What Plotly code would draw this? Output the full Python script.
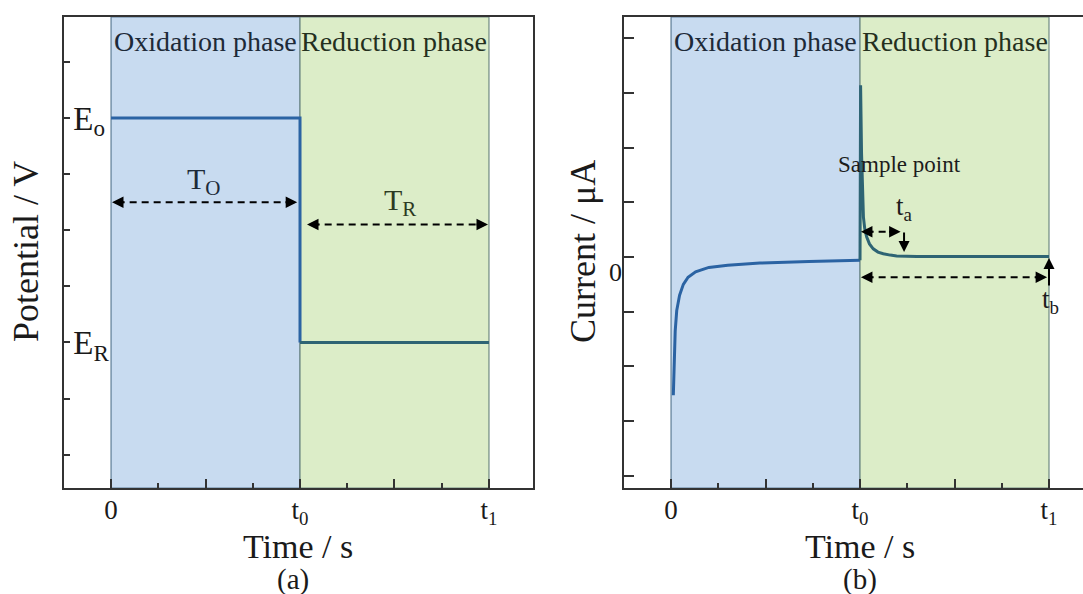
import plotly.graph_objects as go

W, H = 1083, 594
FONT = "Liberation Serif, Times New Roman, serif"

# ---------------- data ----------------
phase_names = ["Oxidation phase", "Reduction phase"]
phase_bounds = [0, 1, 2]          # 0, t0, t1
x_tickvals = [0, 0.5, 1, 1.5, 2]
x_ticktext = ["0", "", "t<sub>0</sub>", "", "t<sub>1</sub>"]
x_minorvals = [0.25, 0.75, 1.25, 1.75]

# panel (a): potential step
pot_ox_t = [0, 1, 1]
pot_ox_v = [7, 7, 3]
pot_red_t = [1, 2]
pot_red_v = [3, 3]
pot_tickvals = [1, 2, 3, 4, 5, 6, 7, 8]
pot_ticktext = ["", "", "E<sub>R</sub>", "", "", "", "E<sub>o</sub>", ""]

# panel (b): current response
cur_ox_t = [0.012, 0.016, 0.022, 0.03, 0.045, 0.065, 0.09, 0.13, 0.2, 0.3, 0.47, 0.73, 1.0]
cur_ox_i = [-2.53, -1.9, -1.35, -0.98, -0.7, -0.5, -0.37, -0.27, -0.19, -0.15, -0.11, -0.08, -0.06]
cur_red_t = [1.0, 1.003, 1.008, 1.012, 1.018, 1.025, 1.035, 1.05, 1.07, 1.095, 1.123, 1.16,
             1.194, 1.3, 1.5, 1.75, 2.0]
cur_red_i = [-0.06, 3.14, 1.9, 1.16, 0.73, 0.52, 0.37, 0.24, 0.15, 0.09, 0.06, 0.035,
             0.02, 0.01, 0.01, 0.01, 0.01]
cur_tickvals = [-4, -3, -2, -1, 0, 1, 2, 3, 4]
cur_ticktext = ["", "", "", "", "0", "", "", "", ""]

# dimension arrows (x0, x1, y)
arrow_TO = (0.005, 0.985, 5.5)
arrow_TR = (1.037, 1.995, 5.1)
arrow_ta = (1.005, 1.215, 0.46)
arrow_tb = (1.005, 1.99, -0.37)

BLUE_FILL = "#c8dbf0"
GREEN_FILL = "#dcedc8"
LINE_BLUE = "#2b63a3"
LINE_TEAL = "#2e6474"
AX = "#333333"

fig = go.Figure()

# ---------- traces ----------
fig.add_trace(go.Scatter(x=pot_ox_t, y=pot_ox_v, mode="lines",
                         line=dict(color=LINE_BLUE, width=3), xaxis="x", yaxis="y"))
fig.add_trace(go.Scatter(x=pot_red_t, y=pot_red_v, mode="lines",
                         line=dict(color=LINE_TEAL, width=3), xaxis="x", yaxis="y"))
fig.add_trace(go.Scatter(x=cur_ox_t, y=cur_ox_i, mode="lines",
                         line=dict(color=LINE_BLUE, width=3), xaxis="x2", yaxis="y2"))
fig.add_trace(go.Scatter(x=cur_red_t, y=cur_red_i, mode="lines",
                         line=dict(color=LINE_TEAL, width=3), xaxis="x2", yaxis="y2"))

annotations = []
shapes = []


def dim_arrow(a, xr, yr):
    x0, x1, y = a
    fig.add_trace(go.Scatter(x=[x0 + 0.03, x1 - 0.03], y=[y, y], mode="lines",
                             line=dict(color="black", width=2, dash="7px,5px"),
                             xaxis=xr, yaxis=yr))
    for xe, off in ((x0, 13), (x1, -13)):
        annotations.append(dict(x=xe, y=y, xref=xr, yref=yr, ax=off, ay=0, text="",
                                showarrow=True, arrowhead=2, arrowsize=1.15,
                                arrowwidth=2, arrowcolor="black"))


dim_arrow(arrow_TO, "x", "y")
dim_arrow(arrow_TR, "x", "y")
dim_arrow(arrow_ta, "x2", "y2")
dim_arrow(arrow_tb, "x2", "y2")

# vertical pointer arrows in panel (b)
annotations.append(dict(x=1.233, y=0.09, xref="x2", yref="y2", ax=0, ay=-21, text="",
                        showarrow=True, arrowhead=2, arrowsize=1.1, arrowwidth=2,
                        arrowcolor="black"))
annotations.append(dict(x=2.0, y=-0.02, xref="x2", yref="y2", ax=0, ay=29, text="",
                        showarrow=True, arrowhead=2, arrowsize=1.1, arrowwidth=2,
                        arrowcolor="black"))


def label(x, y, xr, yr, text, size, color="#1a1a1a", angle=0):
    annotations.append(dict(x=x, y=y, xref=xr, yref=yr, text=text, showarrow=False,
                            xanchor="center", yanchor="middle", textangle=angle,
                            font=dict(family=FONT, size=size, color=color)))


# phase rectangles
for xr in ("x", "x2"):
    yr = "y" if xr == "x" else "y2"
    for i, (fill, edge, tcol) in enumerate(((BLUE_FILL, "#5d7d96", "#1d2a38"),
                                            (GREEN_FILL, "#6f8a82", "#24301e"))):
        shapes.append(dict(type="rect", xref=xr, yref=yr + " domain",
                           x0=phase_bounds[i], x1=phase_bounds[i + 1], y0=0, y1=1,
                           fillcolor=fill, line=dict(color=edge, width=1.2), layer="below"))
        label((phase_bounds[i] + phase_bounds[i + 1]) / 2, 0.947, xr, yr + " domain",
              phase_names[i], 28, tcol)

# in-panel labels
label(0.49, 5.87, "x", "y", "T<sub>O</sub>", 30, "#1d2a38")
label(1.53, 5.51, "x", "y", "T<sub>R</sub>", 30, "#2c3a22")
label(1.21, 1.69, "x2", "y2", "Sample point", 23, "#1c1c1c")
label(1.235, 0.9, "x2", "y2", "t<sub>a</sub>", 27, "#1c1c1c")
label(2.01, -0.8, "x2", "y2", "t<sub>b</sub>", 27, "#1c1c1c")

# axis titles and panel letters
label(26 / W, 1 - 252 / H, "paper", "paper", "Potential / V", 36, angle=-90)
label(583 / W, 1 - 252 / H, "paper", "paper", "Current / μA", 36, angle=-90)
label(298 / W, 1 - 546 / H, "paper", "paper", "Time / s", 34)
label(860 / W, 1 - 546 / H, "paper", "paper", "Time / s", 34)
label(293 / W, 1 - 579 / H, "paper", "paper", "(a)", 29)
label(860 / W, 1 - 579 / H, "paper", "paper", "(b)", 29)

ydom = [1 - 488 / H, 1 - 17 / H]
xaxis_common = dict(tickmode="array", tickvals=x_tickvals, ticktext=x_ticktext,
                    ticks="inside", ticklen=9, tickwidth=1.5, tickcolor=AX,
                    showline=True, linecolor=AX, linewidth=1.8, showgrid=False,
                    zeroline=False, tickfont=dict(family=FONT, size=27, color="#1a1a1a"),
                    ticklabelstandoff=-3,
                    minor=dict(tickmode="array", tickvals=x_minorvals, ticks="inside",
                               ticklen=5, tickwidth=1.5, tickcolor=AX))

fig.update_layout(
    width=W, height=H, autosize=False,
    margin=dict(l=0, r=0, t=0, b=0),
    paper_bgcolor="white", plot_bgcolor="white",
    showlegend=False,
    xaxis=dict(domain=[64 / W, 533 / W], range=[-0.249, 2.233], anchor="y",
               mirror=True, **xaxis_common),
    yaxis=dict(domain=ydom, range=[0.405, 8.80], anchor="x",
               tickmode="array", tickvals=pot_tickvals, ticktext=pot_ticktext,
               ticks="inside", ticklen=6, tickwidth=1.5, tickcolor=AX,
               ticklabelposition="inside", ticklabelstandoff=7,
               showline=True, linecolor=AX, linewidth=1.8, mirror=True,
               showgrid=False, zeroline=False,
               tickfont=dict(family=FONT, size=33, color="#1a1a1a")),
    xaxis2=dict(domain=[624 / W, 1.0], range=[-0.249, 2.18], anchor="y2",
                mirror=True, **xaxis_common),
    yaxis2=dict(domain=ydom, range=[-4.225, 4.39], anchor="x2",
                tickmode="array", tickvals=cur_tickvals, ticktext=cur_ticktext,
                ticks="inside", ticklen=10, tickwidth=1.5, tickcolor=AX,
                ticklabelstandoff=-5, ticklabelshift=15,
                showline=True, linecolor=AX, linewidth=1.8, mirror=False,
                showgrid=False, zeroline=False,
                tickfont=dict(family=FONT, size=26, color="#1a1a1a")),
    shapes=shapes,
    annotations=annotations,
)

fig.write_html("out.html")
